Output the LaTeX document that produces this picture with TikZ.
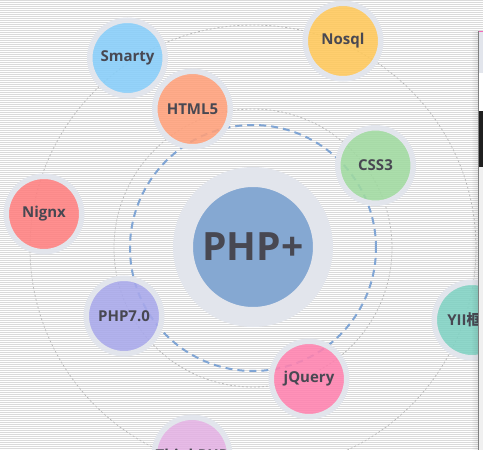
\documentclass[tikz,border=0pt]{standalone}
\usepackage{fontspec}
\setmainfont{Open Sans}
\newfontfamily\cjk{Noto Sans CJK SC}
\definecolor{smartyc}{RGB}{135,206,250}
\definecolor{htmlc}{RGB}{255,160,122}
\definecolor{nosqlc}{RGB}{255,200,90}
\definecolor{cssc}{RGB}{160,218,160}
\definecolor{nginxc}{RGB}{255,128,128}
\definecolor{phpsc}{RGB}{168,168,235}
\definecolor{jqc}{RGB}{255,130,175}
\definecolor{yiic}{RGB}{128,210,195}
\definecolor{thinkc}{RGB}{228,178,228}
\definecolor{hubc}{RGB}{133,168,210}
\definecolor{ringc}{RGB}{226,229,236}
\definecolor{txtc}{RGB}{72,72,82}
\definecolor{orbitc}{RGB}{188,188,188}
\definecolor{dashc}{RGB}{128,165,212}
\definecolor{stripec}{RGB}{218,218,218}
\tikzset{
  sat/.style={circle, minimum size=75.5pt, inner sep=0pt, draw=ringc, line width=5.5pt,
    fill=#1, fill opacity=.88, text opacity=1, text=txtc, font=\bfseries\fontsize{15}{15}\selectfont},
  hub/.style={circle, minimum size=140pt, inner sep=0pt, draw=ringc, line width=20pt,
    fill=hubc, text=txtc, font=\bfseries\fontsize{39}{39}\selectfont},
  orbit/.style={orbitc, line width=.8pt, dash pattern=on 2pt off 2pt},
  track/.style={dashc, line width=2pt, dash pattern=on 7pt off 5pt}
}
\begin{document}
\begin{tikzpicture}[x=1pt,y=-1pt]
    \useasboundingbox (0,0) rectangle (483,450);
    \fill[white] (0,0) rectangle (483,450);
    \foreach \y in {0,2,...,448} \draw[stripec, line width=1pt] (0,\y+0.5) -- (483,\y+0.5);
    \coordinate (o) at (253,248);
    \draw[orbit] (o) circle[radius=223pt];
    \draw[orbit] (o) circle[radius=139pt];
    \draw[track] (o) circle[radius=123pt];
    \node[hub] (php) at (253,247) {PHP+};
    \node[sat=smartyc] (smarty) at (127.5,58) {Smarty};
    \node[sat=htmlc] (html) at (192.5,109) {HTML5};
    \node[sat=nosqlc] (nosql) at (343,41) {Nosql};
    \node[sat=cssc] (css) at (375.5,165.5) {CSS3};
    \node[sat=nginxc] (nginx) at (44,214) {Nignx};
    \node[sat=phpsc] (phpseven) at (124,316) {PHP7.0};
    \node[sat=jqc] (jquery) at (309,379) {jQuery};
    \node[sat=yiic] (yii) at (472,320) {YII{\cjk 框架}};
    \node[sat=thinkc] (think) at (192,455) {ThinkPHP};
    \foreach \i in {1,...,6} \fill[black, opacity=0.012*\i] (471+\i,31) rectangle (472+\i,450);
    \fill[gray!12] (478,31) rectangle (483,450);
    \fill[ringc] (478,32) rectangle (483,73);
    \fill[white] (478,73) rectangle (483,111);
    \fill[black!88] (478,111) rectangle (483,167);
    \draw[magenta!60, line width=1pt] (478,31.5) -- (483,31.5);
    \draw[gray, line width=1pt] (478.5,31) -- (478.5,450);
\end{tikzpicture}
\end{document}
